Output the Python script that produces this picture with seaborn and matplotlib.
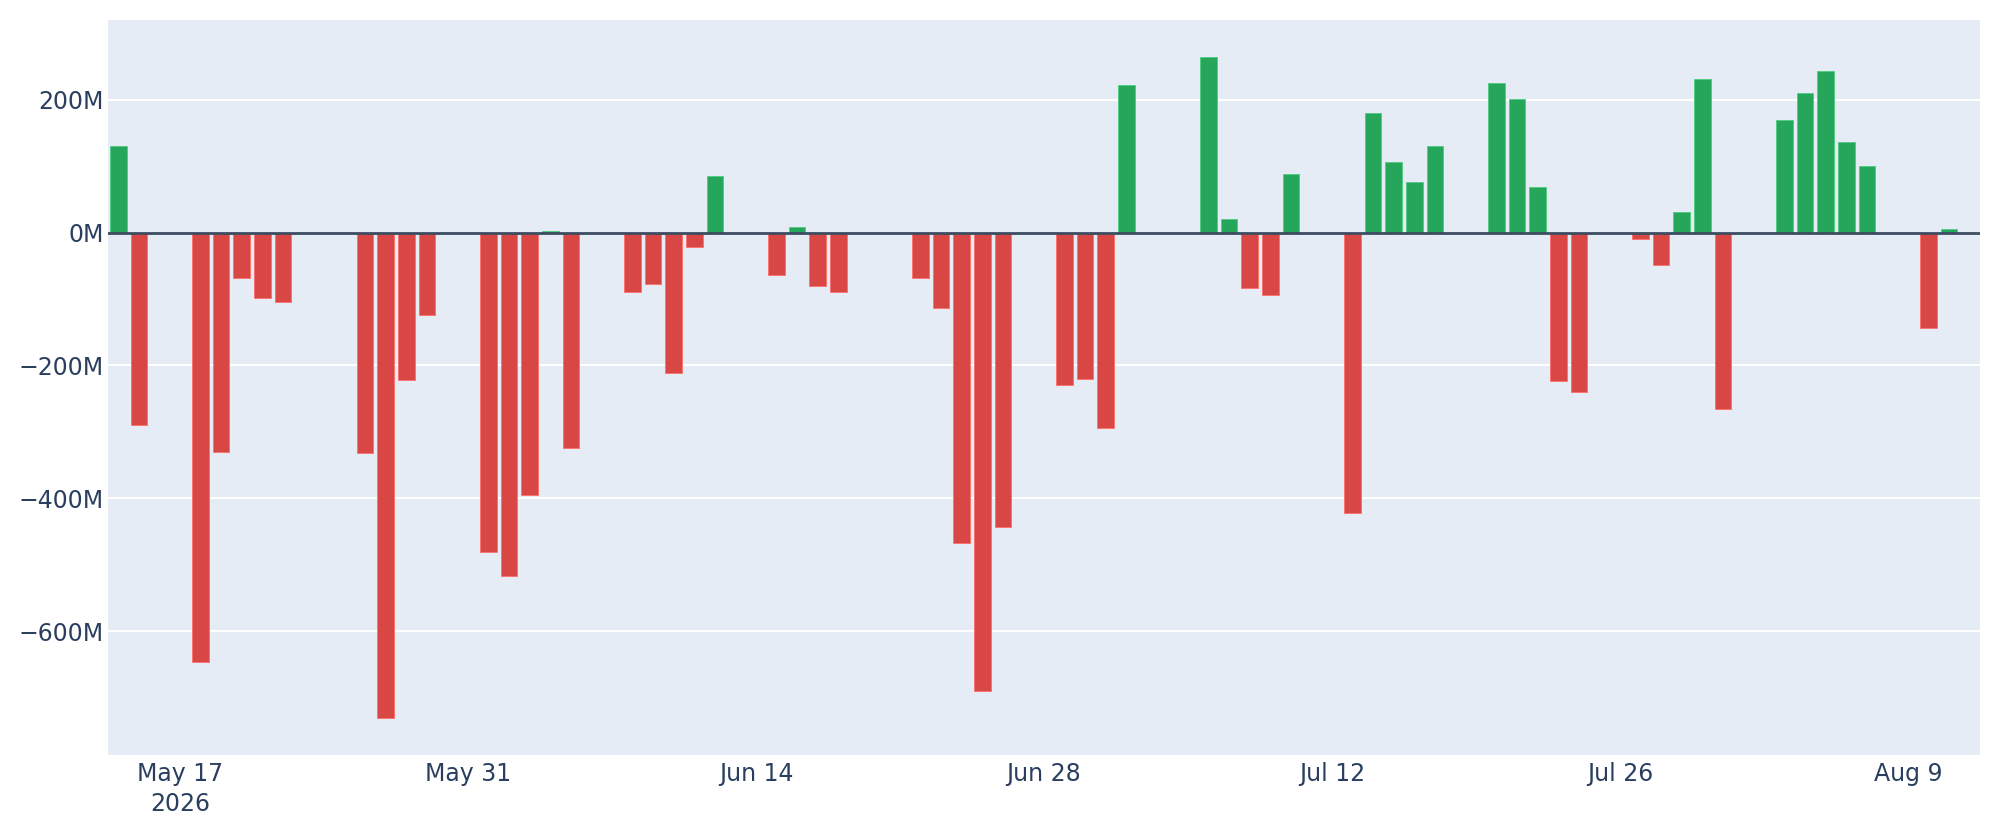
"""
Daily net flow bar chart, plotly-like look, drawn with seaborn.
"""

import pandas as pd
import matplotlib
matplotlib.use("Agg")
import matplotlib.pyplot as plt
import matplotlib.dates as mdates
import seaborn as sns


# =============================================================================
# DATA
# =============================================================================

DATES = [
    '2026-05-14', '2026-05-15',
    '2026-05-18', '2026-05-19', '2026-05-20', '2026-05-21', '2026-05-22',
    '2026-05-26', '2026-05-27', '2026-05-28', '2026-05-29',
    '2026-06-01', '2026-06-02', '2026-06-03', '2026-06-04', '2026-06-05',
    '2026-06-08', '2026-06-09', '2026-06-10', '2026-06-11', '2026-06-12',
    '2026-06-15', '2026-06-16', '2026-06-17', '2026-06-18',
    '2026-06-22', '2026-06-23', '2026-06-24', '2026-06-25', '2026-06-26',
    '2026-06-29', '2026-06-30', '2026-07-01', '2026-07-02',
    '2026-07-06', '2026-07-07', '2026-07-08', '2026-07-09', '2026-07-10',
    '2026-07-13', '2026-07-14', '2026-07-15', '2026-07-16', '2026-07-17',
    '2026-07-20', '2026-07-21', '2026-07-22', '2026-07-23', '2026-07-24',
    '2026-07-27', '2026-07-28', '2026-07-29', '2026-07-30', '2026-07-31',
    '2026-08-03', '2026-08-04', '2026-08-05', '2026-08-06', '2026-08-07',
    '2026-08-10', '2026-08-11',
]

# net flow in millions
NET_FLOW_M = [
    130, -289,
    -647, -330, -69, -99, -104,
    -332, -731, -222, -124,
    -481, -517, -395, 2, -324,
    -90, -77, -212, -22, 85,
    -64, 9, -81, -90,
    -68, -113, -467, -690, -443,
    -230, -221, -295, 222,
    265, 20, -84, -94, 89,
    -423, 180, 107, 77, 131,
    225, 202, 69, -224, -240,
    -10, -49, 31, 231, -265,
    169, 210, 243, 136, 100,
    -143, 6,
]

X_TICK_DATES = ['2026-05-17', '2026-05-31', '2026-06-14', '2026-06-28',
                '2026-07-12', '2026-07-26', '2026-08-09']
X_TICK_LABELS = ['May 17\n2026', 'May 31', 'Jun 14', 'Jun 28',
                 'Jul 12', 'Jul 26', 'Aug 9']

Y_TICKS = [-600, -400, -200, 0, 200]
Y_TICK_LABELS = ['\u2212600M', '\u2212400M', '\u2212200M', '0M', '200M']

X_RANGE = ('2026-05-13 12:00', '2026-08-12 12:00')
Y_RANGE = (-787, 320)


# =============================================================================
# STYLE
# =============================================================================

GREEN = '#26A65B'
RED = '#D94744'
BG = '#E5ECF6'
TEXT = '#2A3F5F'
ZERO = '#3D4C61'


def main(output_path='out.png'):
    df = pd.DataFrame({'date': pd.to_datetime(DATES), 'flow': NET_FLOW_M})
    df['x'] = mdates.date2num(df['date'])
    df['sign'] = ['up' if v >= 0 else 'down' for v in df['flow']]

    fig = plt.figure(figsize=(20, 8.4), dpi=100, facecolor='white')
    ax = fig.add_axes([0.054, 0.101, 0.936, 0.875])
    ax.set_facecolor(BG)

    sns.barplot(
        data=df, x='x', y='flow', hue='sign',
        palette={'up': GREEN, 'down': RED}, saturation=1,
        native_scale=True, dodge=False, errorbar=None,
        width=0.8, linewidth=0.6,
        legend=False, ax=ax, zorder=2,
    )
    # slightly lighter outline, like plotly's marker line
    for p in ax.patches:
        fc = p.get_facecolor()
        p.set_edgecolor((min(fc[0] + 0.15, 1), min(fc[1] + 0.15, 1),
                         min(fc[2] + 0.15, 1), 1))

    ax.set_xlim(mdates.date2num(pd.Timestamp(X_RANGE[0])),
                mdates.date2num(pd.Timestamp(X_RANGE[1])))
    ax.set_ylim(*Y_RANGE)

    ax.set_xticks(mdates.date2num(pd.to_datetime(X_TICK_DATES)))
    ax.set_xticklabels(X_TICK_LABELS, fontsize=17, color=TEXT)
    for lbl in ax.get_xticklabels():
        lbl.set_linespacing(1.3)
    ax.set_yticks(Y_TICKS)
    ax.set_yticklabels(Y_TICK_LABELS, fontsize=17, color=TEXT)
    ax.tick_params(axis='both', length=0)
    ax.tick_params(axis='x', pad=5)
    ax.tick_params(axis='y', pad=3)

    ax.grid(False)
    for y in Y_TICKS:
        if y != 0:
            ax.axhline(y, color='white', lw=1.5, zorder=1)
    ax.axhline(0, color=ZERO, lw=2, zorder=3)

    for sp in ax.spines.values():
        sp.set_visible(False)
    ax.set_xlabel('')
    ax.set_ylabel('')

    fig.savefig(output_path, dpi=100, facecolor='white')
    plt.close(fig)


if __name__ == '__main__':
    main()
